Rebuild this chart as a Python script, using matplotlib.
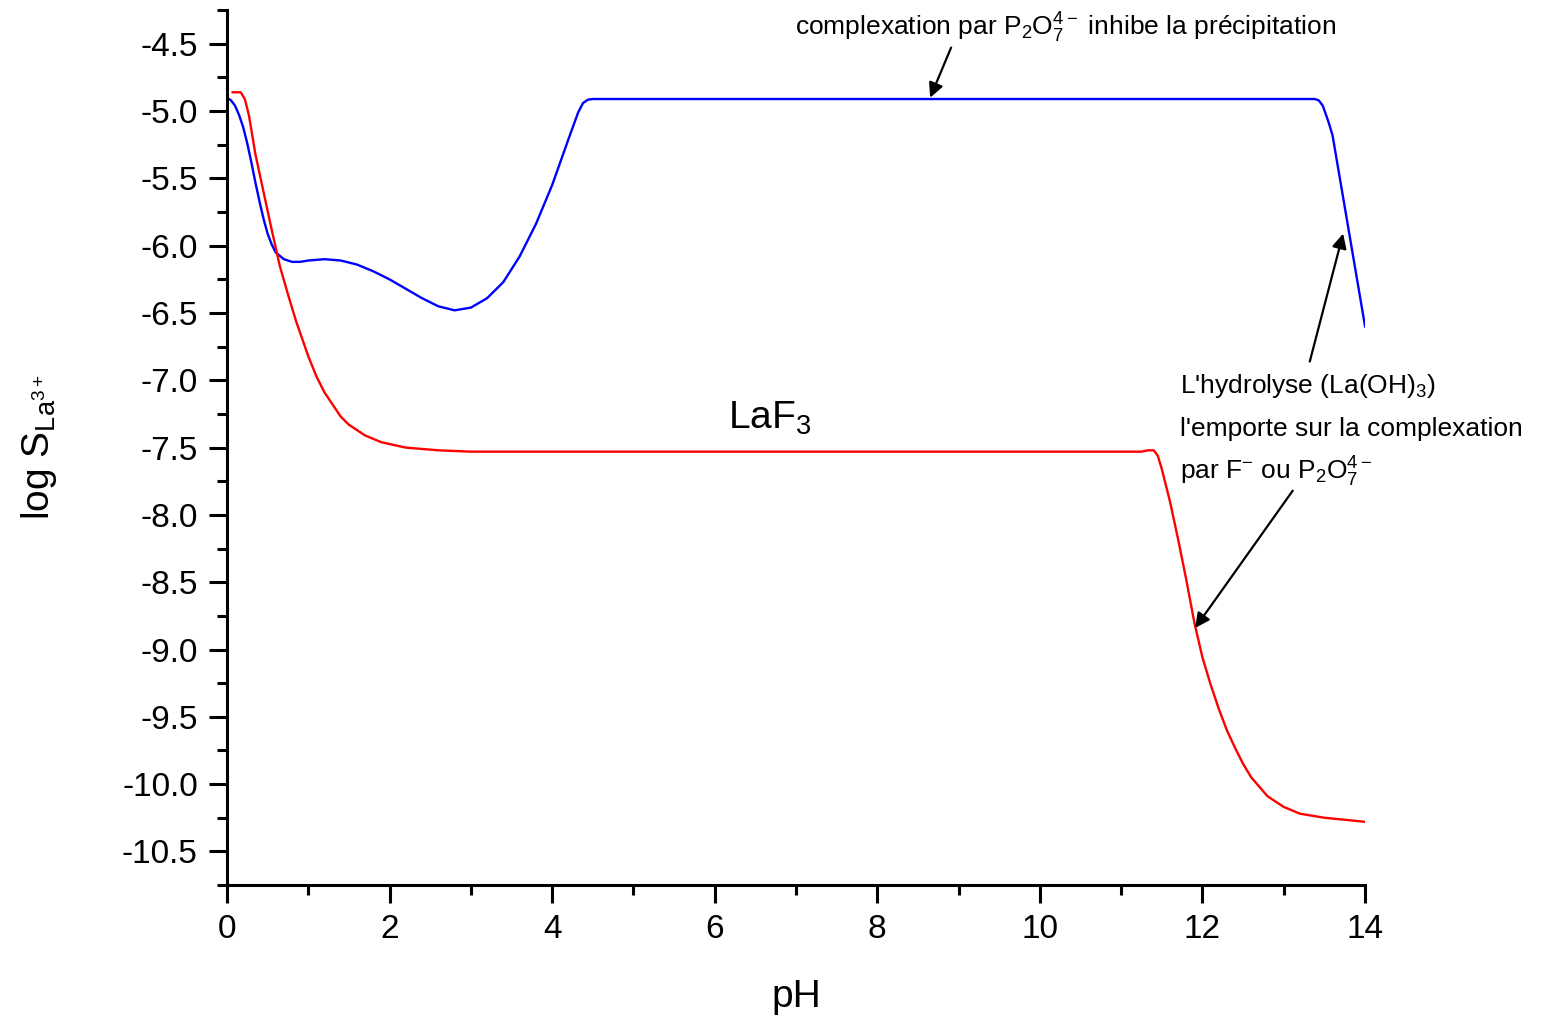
import matplotlib
matplotlib.use('Agg')
import matplotlib.pyplot as plt
from matplotlib.ticker import MultipleLocator

plt.rcParams['font.family'] = ['Liberation Sans', 'DejaVu Sans']
plt.rcParams['mathtext.fontset'] = 'custom'
plt.rcParams['mathtext.rm'] = 'Liberation Sans'
plt.rcParams['mathtext.it'] = 'Liberation Sans'
plt.rcParams['mathtext.default'] = 'regular'

# courbe bleue (avec P2O7 4-)
ph_blue = [0.00, 0.05, 0.10, 0.15, 0.20, 0.25, 0.30, 0.35, 0.40, 0.45, 0.50, 0.55, 0.60,
           0.70, 0.80, 0.90, 1.00, 1.20, 1.40, 1.60, 1.80, 2.00, 2.20, 2.40, 2.60, 2.80,
           3.00, 3.20, 3.40, 3.60, 3.80, 4.00, 4.20, 4.32, 4.38, 4.44, 4.50, 13.38, 13.43,
           13.48, 13.55, 13.60, 13.80, 14.00]
log_blue = [-4.90, -4.92, -4.96, -5.03, -5.12, -5.24, -5.38, -5.53, -5.67, -5.80, -5.91, -5.99, -6.05,
            -6.10, -6.12, -6.12, -6.11, -6.10, -6.11, -6.14, -6.19, -6.25, -6.32, -6.39, -6.45, -6.48,
            -6.46, -6.39, -6.27, -6.08, -5.84, -5.55, -5.21, -5.01, -4.94, -4.915, -4.91, -4.91, -4.92,
            -4.96, -5.08, -5.18, -5.89, -6.60]

# courbe rouge (LaF3)
ph_red = [0.07, 0.17, 0.22, 0.27, 0.35, 0.45, 0.55, 0.65, 0.75, 0.85, 1.00, 1.10, 1.20, 1.30,
          1.40, 1.50, 1.70, 1.90, 2.20, 2.60, 3.00, 11.25, 11.33, 11.40, 11.45, 11.50, 11.60,
          11.70, 11.80, 11.90, 12.00, 12.10, 12.20, 12.30, 12.40, 12.50, 12.60, 12.80, 13.00,
          13.20, 13.50, 14.00]
log_red = [-4.86, -4.86, -4.91, -5.03, -5.32, -5.60, -5.88, -6.15, -6.36, -6.56, -6.82, -6.97, -7.09, -7.18,
           -7.27, -7.33, -7.41, -7.46, -7.50, -7.52, -7.53, -7.53, -7.52, -7.52, -7.56, -7.66, -7.90,
           -8.18, -8.48, -8.80, -9.06, -9.26, -9.44, -9.60, -9.73, -9.85, -9.95, -10.09, -10.17,
           -10.22, -10.25, -10.28]

fig = plt.figure(figsize=(15.47, 10.18), dpi=100)
ax = fig.add_axes([0.1467, 0.1306, 0.7357, 0.8594])

ax.plot(ph_blue, log_blue, color='#0000ff', lw=1.7)
ax.plot(ph_red, log_red, color='#ff0000', lw=1.7)

ax.set_xlim(0, 14)
ax.set_ylim(-10.75, -4.25)
ax.xaxis.set_major_locator(MultipleLocator(2))
ax.xaxis.set_minor_locator(MultipleLocator(1))
ax.yaxis.set_major_locator(MultipleLocator(0.5))
ax.yaxis.set_minor_locator(MultipleLocator(0.25))
ax.yaxis.set_major_formatter(plt.FuncFormatter(lambda v, p: '%.1f' % v))
for side in ('top', 'right'):
    ax.spines[side].set_visible(False)
for side in ('left', 'bottom'):
    ax.spines[side].set_linewidth(2.2)
ax.tick_params(which='major', direction='out', length=13, width=2.2, labelsize=24, pad=8)
ax.tick_params(which='minor', direction='out', length=7, width=2.2)

ax.set_xlabel('pH', fontsize=28, labelpad=24)
ax.set_ylabel(r'log S$_{La^{3+}}$', fontsize=28)
ax.yaxis.set_label_coords(-0.148, 0.5)

ax.text(6.68, -7.28, r'LaF$_3$', fontsize=28, ha='center', va='center')

ax.annotate(r'complexation par P$_2$O$_7^{4-}$ inhibe la précipitation',
            xy=(8.65, -4.90), xytext=(10.32, -4.38), fontsize=19,
            ha='center', va='center', annotation_clip=False,
            arrowprops=dict(arrowstyle='-|>', color='black', lw=1.6, mutation_scale=22,
                            shrinkA=0, shrinkB=0, relpos=(0.29, 0.0)))

ax.text(11.72, -7.53 + 0.49, r"L'hydrolyse (La(OH)$_3$)", fontsize=19, ha='left', va='center')
ax.text(11.72, -7.53 + 0.17, "l'emporte sur la complexation", fontsize=19, ha='left', va='center')
ax.text(11.72, -7.53 - 0.15, r'par F$^{-}$ ou P$_2$O$_7^{4-}$', fontsize=19, ha='left', va='center')

ax.annotate('', xy=(13.73, -5.91), xytext=(13.32, -6.86),
            arrowprops=dict(arrowstyle='-|>', color='black', lw=1.6, mutation_scale=22,
                            shrinkA=0, shrinkB=0))
ax.annotate('', xy=(11.91, -8.84), xytext=(13.11, -7.82),
            arrowprops=dict(arrowstyle='-|>', color='black', lw=1.6, mutation_scale=22,
                            shrinkA=0, shrinkB=0))

fig.savefig('out.png', dpi=100)
